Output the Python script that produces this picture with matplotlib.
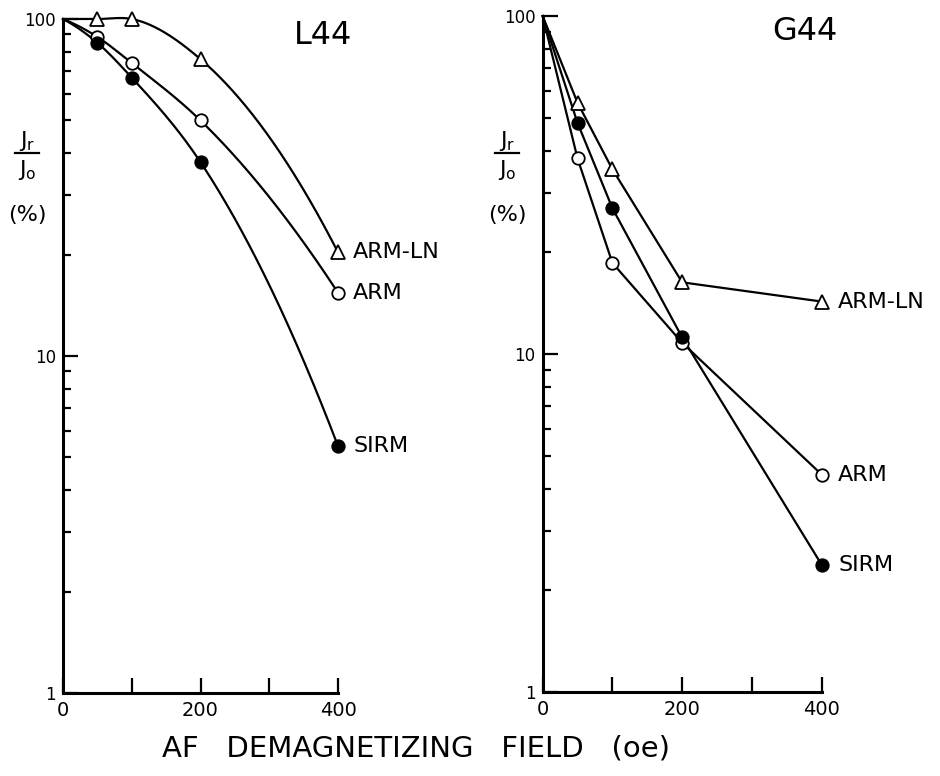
import numpy as np
import matplotlib
matplotlib.use("Agg")
import matplotlib.pyplot as plt
from matplotlib.lines import Line2D
from matplotlib.ticker import FixedLocator, NullFormatter

# ---- data ----
field = [0, 50, 100, 200, 400]
l44_armln = [100, 100, 100, 76, 20.3]
l44_arm = [100, 88.5, 74, 50, 15.4]
l44_sirm = [100, 85, 67, 37.6, 5.4]
g44_armln = [100, 55.4, 35.2, 16.3, 14.3]
g44_arm = [100, 37.9, 18.6, 10.8, 4.4]
g44_sirm = [100, 48.3, 27.0, 11.2, 2.38]
series_names = ["ARM-LN", "ARM", "SIRM"]
panel_titles = ["L44", "G44"]
x_tick_labels = ["0", "200", "400"]
y_tick_labels = ["1", "10", "100"]


def smooth(x, y, xs):
    """Cubic Hermite curve through the points with Bessel (3-point parabola) slopes."""
    x = np.asarray(x, float)
    y = np.asarray(y, float)
    h = np.diff(x)
    d = np.diff(y) / h
    n = len(x)
    m = np.zeros(n)
    for k in range(1, n - 1):
        m[k] = (h[k] * d[k - 1] + h[k - 1] * d[k]) / (h[k - 1] + h[k])
    m[0] = 2 * d[0] - m[1]
    m[-1] = 2 * d[-1] - m[-2]
    out = np.empty_like(xs, dtype=float)
    for i, xv in enumerate(xs):
        k = min(np.searchsorted(x, xv, side="right") - 1, n - 2)
        k = max(k, 0)
        t = (xv - x[k]) / h[k]
        h00 = 2 * t**3 - 3 * t**2 + 1
        h10 = t**3 - 2 * t**2 + t
        h01 = -2 * t**3 + 3 * t**2
        h11 = t**3 - t**2
        out[i] = h00 * y[k] + h10 * h[k] * m[k] + h01 * y[k + 1] + h11 * h[k] * m[k + 1]
    return out


fig = plt.figure(figsize=(9.4, 7.76), dpi=100)
plt.rcParams["font.family"] = ["DejaVu Sans"]

axL = fig.add_axes([0.0670, 0.1070, 0.2926, 0.8685])
axG = fig.add_axes([0.5773, 0.1082, 0.2968, 0.8711])

markers = ["^", "o", "o"]
faces = ["white", "white", "black"]
lw = 1.6

def style(ax):
    ax.set_yscale("log")
    ax.set_xlim(0, 400)
    ax.set_ylim(1, 100)
    for s in ["top", "right"]:
        ax.spines[s].set_visible(False)
    for s in ["left", "bottom"]:
        ax.spines[s].set_linewidth(2.2)
    ax.set_xticks([0, 200, 400])
    ax.set_xticklabels(x_tick_labels, fontsize=14)
    ax.xaxis.set_minor_locator(FixedLocator([100, 300]))
    ax.set_yticks([1, 10, 100])
    ax.set_yticklabels(y_tick_labels, fontsize=12)
    ax.yaxis.set_minor_formatter(NullFormatter())
    ax.tick_params(axis="both", which="both", direction="in", width=1.6)
    ax.tick_params(axis="x", which="both", length=11, pad=6)
    ax.tick_params(axis="y", which="major", length=11, pad=5)
    ax.tick_params(axis="y", which="minor", length=6)

style(axL)
style(axG)

# Left panel: smooth curves
xs = np.linspace(0, 400, 400)
for vals, mk, fc, name in zip([l44_armln, l44_arm, l44_sirm], markers, faces, series_names):
    ys = 10 ** smooth(field, np.log10(vals), xs)
    axL.plot(xs, ys, color="black", lw=lw, clip_on=False)
    axL.plot(field[1:], vals[1:], linestyle="none", marker=mk, markersize=9 if mk == "o" else 10,
             markerfacecolor=fc, markeredgecolor="black", markeredgewidth=1.3, clip_on=False, zorder=5)
    axL.annotate(name, (field[-1], vals[-1]), xytext=(11, 0), textcoords="offset points",
                 va="center", ha="left", fontsize=16, annotation_clip=False)

# Right panel: straight segments
for vals, mk, fc, name in zip([g44_armln, g44_arm, g44_sirm], markers, faces, series_names):
    axG.plot(field, vals, color="black", lw=lw, clip_on=False)
    axG.plot(field[1:], vals[1:], linestyle="none", marker=mk, markersize=9 if mk == "o" else 10,
             markerfacecolor=fc, markeredgecolor="black", markeredgewidth=1.3, clip_on=False, zorder=5)
    axG.annotate(name, (field[-1], vals[-1]), xytext=(12, 0), textcoords="offset points",
                 va="center", ha="left", fontsize=16, annotation_clip=False)

# Titles
fig.text(323 / 940, 1 - 36 / 776, panel_titles[0], fontsize=23, ha="center", va="center")
fig.text(805 / 940, 1 - 32 / 776, panel_titles[1], fontsize=23, ha="center", va="center")

# Y labels (fraction J_r / J_o and (%))
for cx in [27, 507]:
    fig.text(cx / 940, 1 - 141 / 776, r"$\mathrm{J_r}$", fontsize=16, ha="center", va="center")
    fig.add_artist(Line2D([(cx - 12) / 940, (cx + 12) / 940], [1 - 153 / 776, 1 - 153 / 776],
                          color="black", lw=1.6, transform=fig.transFigure))
    fig.text(cx / 940, 1 - 170 / 776, r"$\mathrm{J_o}$", fontsize=16, ha="center", va="center")
    fig.text(cx / 940, 1 - 215 / 776, "(%)", fontsize=16, ha="center", va="center")

# X label
fig.text(416 / 940, 1 - 748 / 776, "AF   DEMAGNETIZING   FIELD   (oe)", fontsize=21,
         ha="center", va="center")

fig.savefig("out.png", dpi=100)
